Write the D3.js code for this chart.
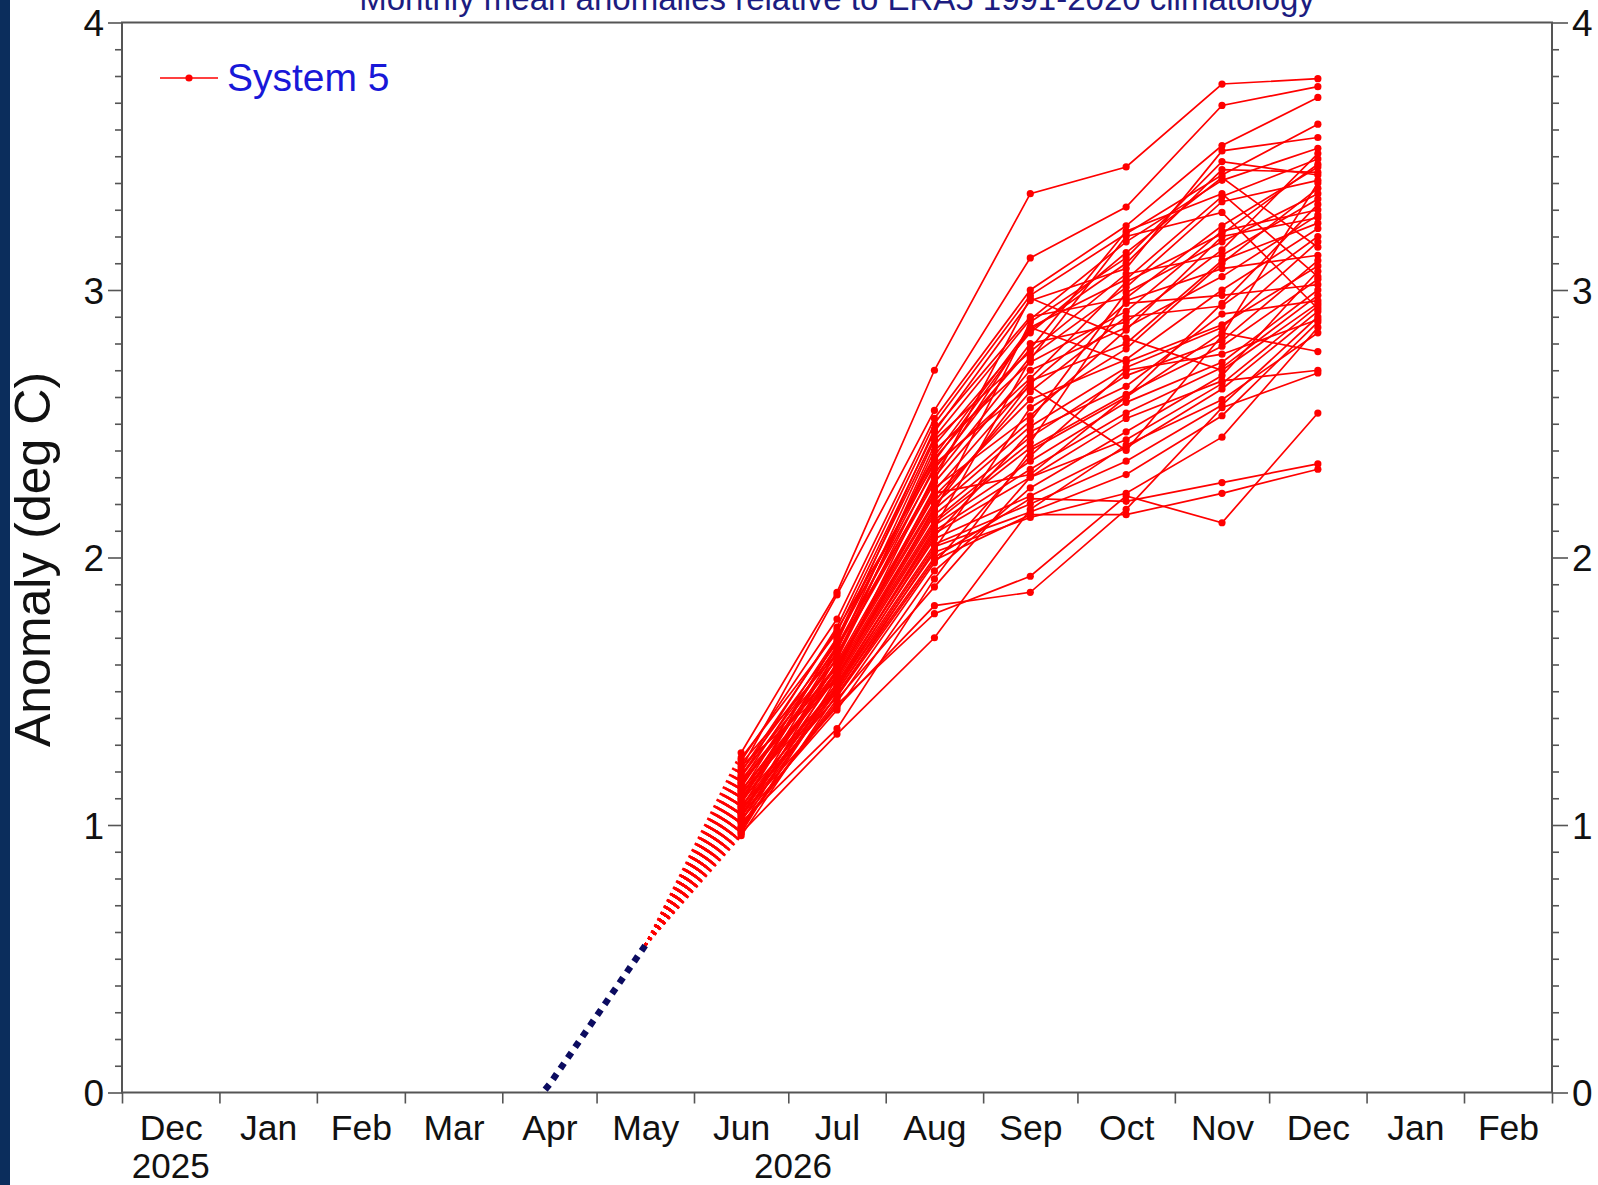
<!DOCTYPE html>
<html><head><meta charset="utf-8">
<script src="https://cdn.jsdelivr.net/npm/d3@7"></script>
<style>html,body{margin:0;padding:0;background:#fff;} svg{display:block;}</style>
</head><body>
<svg id="chart" width="1598" height="1185"></svg>
<script>
// ---------- data ----------
const titleText = "Monthly mean anomalies relative to ERA5 1991-2020 climatology";
const yAxisTitle = "Anomaly (deg C)";
const legendLabel = "System 5";
const yMajorTicks = [0, 1, 2, 3, 4];
const yearLabels = ["2025", "2026"];
const axisStart = "2025-12";
const axisEnd = "2027-03";

// observed (analysis) monthly anomalies
const obsMonths = ["2026-03", "2026-04", "2026-05"];
const obsValues = [-0.40, 0.03, 0.55];

// forecast months and ensemble members (Jun..Dec 2026)
const fcMonths = ["2026-06", "2026-07", "2026-08", "2026-09", "2026-10", "2026-11", "2026-12"];
const members = [
  [1.27, 1.87, 2.70, 3.36, 3.46, 3.77, 3.79],
  [1.21, 1.86, 2.55, 3.12, 3.31, 3.69, 3.76],
  [1.24, 1.77, 2.52, 3.00, 3.24, 3.54, 3.72],
  [1.18, 1.74, 2.50, 2.98, 3.21, 3.43, 3.62],
  [1.25, 1.72, 2.47, 2.96, 3.08, 3.52, 3.57],
  [1.16, 1.70, 2.45, 2.89, 3.18, 3.41, 3.53],
  [1.12, 1.69, 2.38, 2.86, 3.04, 3.35, 3.49],
  [1.20, 1.68, 2.48, 2.90, 2.97, 3.24, 3.46],
  [1.09, 1.66, 2.36, 2.85, 3.10, 3.45, 3.44],
  [1.14, 1.67, 2.33, 2.80, 2.88, 3.15, 3.51],
  [1.06, 1.65, 2.44, 2.77, 3.06, 3.13, 3.34],
  [1.23, 1.64, 2.30, 2.75, 3.01, 3.33, 3.41],
  [1.03, 1.63, 2.40, 2.73, 2.92, 3.22, 3.30],
  [1.11, 1.64, 2.28, 2.70, 2.86, 3.05, 3.28],
  [1.19, 1.62, 2.34, 2.67, 3.03, 3.21, 3.47],
  [1.01, 1.61, 2.25, 2.66, 2.80, 3.11, 3.25],
  [1.15, 1.60, 2.23, 2.59, 2.74, 3.00, 3.23],
  [1.08, 1.60, 2.21, 2.62, 2.90, 2.94, 3.20],
  [1.17, 1.59, 2.20, 2.51, 2.99, 3.18, 3.36],
  [0.99, 1.58, 2.18, 2.49, 2.71, 2.86, 3.18],
  [1.13, 1.57, 2.31, 2.86, 2.73, 2.87, 3.09],
  [1.05, 1.56, 2.16, 2.45, 2.68, 2.81, 3.11],
  [1.10, 1.56, 2.14, 2.43, 2.96, 3.08, 3.13],
  [0.97, 1.55, 2.13, 2.41, 2.61, 2.79, 3.04],
  [1.22, 1.54, 2.12, 2.36, 2.58, 2.73, 3.00],
  [1.04, 1.53, 2.10, 2.33, 2.54, 2.71, 2.98],
  [1.07, 1.53, 2.09, 2.30, 2.44, 2.65, 2.94],
  [0.98, 1.52, 2.07, 2.23, 2.41, 2.63, 2.92],
  [1.12, 1.51, 2.05, 2.20, 2.36, 2.57, 2.90],
  [1.02, 1.50, 2.04, 2.17, 2.31, 2.53, 2.88],
  [1.09, 1.50, 2.02, 2.15, 2.24, 2.45, 2.86],
  [0.96, 1.49, 2.00, 2.22, 2.21, 2.28, 2.35],
  [1.06, 1.48, 1.99, 2.16, 2.16, 2.24, 2.33],
  [1.00, 1.45, 1.79, 1.93, 2.23, 2.13, 2.54],
  [1.04, 1.44, 1.82, 1.87, 2.18, 2.56, 2.69],
  [0.99, 1.47, 1.89, 2.30, 2.52, 2.66, 2.70],
  [1.01, 1.36, 1.92, 2.40, 2.60, 2.84, 2.77],
  [0.97, 1.34, 1.70, 2.18, 2.42, 2.59, 2.84],
  [1.15, 1.62, 2.42, 2.84, 3.14, 3.42, 3.16],
  [1.10, 1.58, 2.26, 2.53, 2.85, 3.20, 3.27],
  [1.08, 1.70, 2.37, 2.78, 3.22, 3.36, 3.05],
  [1.13, 1.55, 2.19, 2.65, 2.95, 2.98, 3.02],
  [1.03, 1.51, 2.08, 2.47, 2.64, 2.91, 2.96],
  [1.18, 1.66, 2.29, 2.97, 2.82, 2.70, 2.95],
  [1.07, 1.48, 2.03, 2.56, 2.78, 3.10, 3.38],
  [0.99, 1.46, 1.98, 2.38, 2.70, 2.76, 2.89],
  [1.11, 1.57, 2.17, 2.88, 3.12, 3.48, 3.43],
  [1.05, 1.52, 2.11, 2.74, 3.20, 3.29, 2.93],
  [1.20, 1.73, 2.35, 2.64, 2.40, 2.83, 3.40],
  [1.16, 1.59, 2.24, 2.31, 2.60, 2.95, 3.32],
  [1.02, 1.43, 1.95, 2.26, 2.47, 2.68, 3.07]
];

// ---------- setup ----------
const W = 1598, H = 1185;
const plot = { left: 122, right: 1552, top: 22.5, bottom: 1092.5 };
const FONT = "'Liberation Sans', Arial, Helvetica, sans-serif";

const svg = d3.select("#chart");
const parse = d3.utcParse("%Y-%m");
const midMonth = s => { const a = parse(s); const b = d3.utcMonth.offset(a, 1); return new Date((+a + +b) / 2); };

const x = d3.scaleUtc().domain([parse(axisStart), parse(axisEnd)]).range([plot.left, plot.right]);
const y = d3.scaleLinear().domain([0, 4]).range([plot.bottom, plot.top]);

svg.append("rect").attr("width", W).attr("height", H).attr("fill", "#fff");
svg.append("rect").attr("x", 0).attr("y", 0).attr("width", 10).attr("height", H).attr("fill", "#0b2d5c");

svg.append("clipPath").attr("id", "clip").append("rect")
  .attr("x", plot.left).attr("y", plot.top)
  .attr("width", plot.right - plot.left).attr("height", plot.bottom - plot.top);

// ---------- axes ----------
const axisColor = "#555";
const styleAxis = g => {
  g.select(".domain").remove();
  g.selectAll(".tick line").attr("stroke", axisColor).attr("stroke-width", 1.6);
  g.selectAll("text").attr("font-family", FONT).attr("fill", "#111");
};
const minorTicks = d3.range(0, 41).map(i => i / 10).filter(v => Math.abs(v - Math.round(v)) > 1e-6);

// left
svg.append("g").attr("transform", `translate(${plot.left},0)`)
  .call(d3.axisLeft(y).tickValues(minorTicks).tickSize(7).tickFormat(""))
  .call(styleAxis);
svg.append("g").attr("transform", `translate(${plot.left},0)`)
  .call(d3.axisLeft(y).tickValues(yMajorTicks).tickSize(14).tickPadding(4).tickFormat(d3.format("d")))
  .call(styleAxis)
  .call(g => g.selectAll("text").attr("font-size", 37).attr("dy", "0.36em"));
// right
svg.append("g").attr("transform", `translate(${plot.right},0)`)
  .call(d3.axisRight(y).tickValues(minorTicks).tickSize(7).tickFormat(""))
  .call(styleAxis);
svg.append("g").attr("transform", `translate(${plot.right},0)`)
  .call(d3.axisRight(y).tickValues(yMajorTicks).tickSize(16).tickPadding(4).tickFormat(d3.format("d")))
  .call(styleAxis)
  .call(g => g.selectAll("text").attr("font-size", 37).attr("dy", "0.36em"));

// bottom month boundary ticks
const monthBounds = d3.utcMonth.range(parse(axisStart), d3.utcMonth.offset(parse(axisEnd), 1));
svg.append("g").attr("transform", `translate(0,${plot.bottom})`)
  .call(d3.axisBottom(x).tickValues(monthBounds).tickSize(11).tickFormat(""))
  .call(styleAxis);
// month labels at mid-month
const monthMids = d3.utcMonth.range(parse(axisStart), parse(axisEnd)).map(d => new Date((+d + +d3.utcMonth.offset(d, 1)) / 2));
svg.append("g").attr("transform", `translate(0,${plot.bottom})`)
  .call(d3.axisBottom(x).tickValues(monthMids).tickSize(0).tickFormat(d3.utcFormat("%b")))
  .call(styleAxis)
  .call(g => g.selectAll("text").attr("font-size", 35.5).attr("y", 47).attr("dy", 0));
// year labels centered over the part of each year inside the axis
const yearG = svg.append("g").attr("font-family", FONT).attr("font-size", 35).attr("fill", "#111").attr("text-anchor", "middle");
yearLabels.forEach(yr => {
  const a = d3.max([parse(yr + "-01"), x.domain()[0]]);
  const b = d3.min([parse((+yr + 1) + "-01"), x.domain()[1]]);
  yearG.append("text").attr("x", (x(a) + x(b)) / 2).attr("y", plot.bottom + 85).text(yr);
});

// frame
svg.append("rect").attr("x", plot.left).attr("y", plot.top)
  .attr("width", plot.right - plot.left).attr("height", plot.bottom - plot.top)
  .attr("fill", "none").attr("stroke", axisColor).attr("stroke-width", 2);

// ---------- marks ----------
const marks = svg.append("g").attr("clip-path", "url(#clip)");
const line = d3.line().x(d => x(d[0])).y(d => y(d[1]));
const lastObs = [midMonth(obsMonths[obsMonths.length - 1]), obsValues[obsValues.length - 1]];

// dotted connectors from last observation to first forecast month
marks.append("g").selectAll("path").data(members).join("path")
  .attr("d", m => line([lastObs, [midMonth(fcMonths[0]), m[0]]]))
  .attr("fill", "none").attr("stroke", "#ff0000").attr("stroke-width", 2.4)
  .attr("stroke-dasharray", "2.5,4.5");

// ensemble lines
marks.append("g").selectAll("path").data(members).join("path")
  .attr("d", m => line(m.map((v, i) => [midMonth(fcMonths[i]), v])))
  .attr("fill", "none").attr("stroke", "#ff0000").attr("stroke-width", 1.7);

// ensemble dots
marks.append("g").selectAll("circle")
  .data(members.flatMap(m => m.map((v, i) => [midMonth(fcMonths[i]), v])))
  .join("circle")
  .attr("cx", d => x(d[0])).attr("cy", d => y(d[1])).attr("r", 3.6).attr("fill", "#ff0000");

// observed
marks.append("path")
  .attr("d", line(obsMonths.map((m, i) => [midMonth(m), obsValues[i]])))
  .attr("fill", "none").attr("stroke", "#0b0b60").attr("stroke-width", 6.5)
  .attr("stroke-dasharray", "6.5,6.5");

// ---------- text ----------
svg.append("text").attr("x", (plot.left + plot.right) / 2).attr("y", 9.5)
  .attr("text-anchor", "middle").attr("font-family", FONT).attr("font-size", 33)
  .attr("fill", "#1c1c80").text(titleText);

svg.append("text").attr("transform", `translate(50,${(plot.top + plot.bottom) / 2 + 2}) rotate(-90)`)
  .attr("text-anchor", "middle").attr("font-family", FONT).attr("font-size", 50)
  .attr("fill", "#111").text(yAxisTitle);

// legend
const lg = svg.append("g");
lg.append("line").attr("x1", 160).attr("x2", 218).attr("y1", 78).attr("y2", 78)
  .attr("stroke", "#ff0000").attr("stroke-width", 1.7);
lg.append("circle").attr("cx", 189).attr("cy", 78).attr("r", 3.6).attr("fill", "#ff0000");
lg.append("text").attr("x", 227).attr("y", 91).attr("font-family", FONT).attr("font-size", 39)
  .attr("fill", "#1818d8").text(legendLabel);
</script>
</body></html>
